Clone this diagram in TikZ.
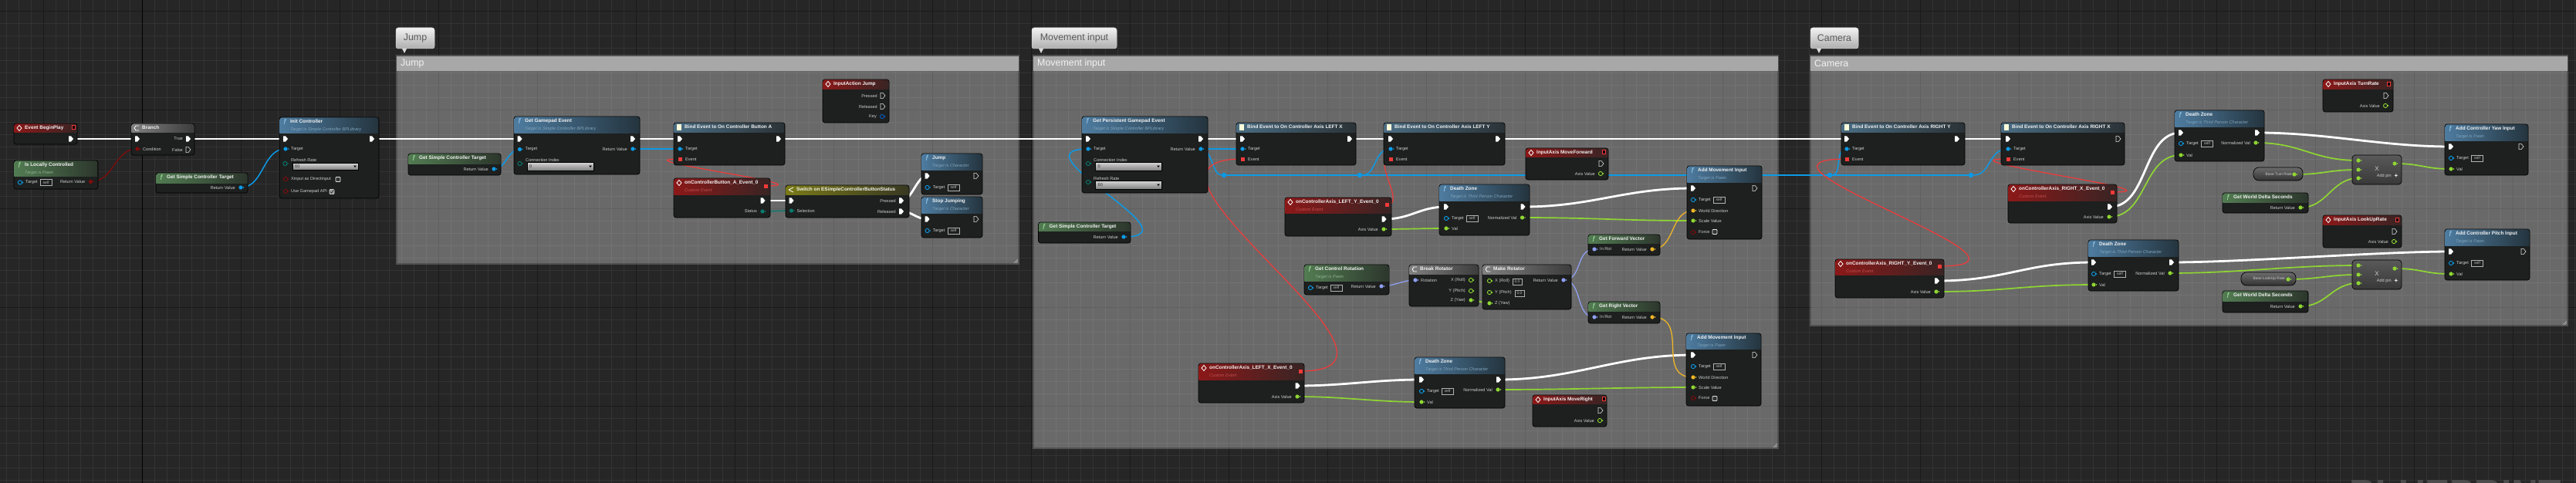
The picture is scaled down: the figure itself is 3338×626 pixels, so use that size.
\documentclass[tikz,border=0pt]{standalone}
\usepackage{fontspec}
\setmainfont{Liberation Sans}
\usetikzlibrary{calc}
\pgfdeclarelayer{bg}\pgfdeclarelayer{wires}
\pgfsetlayers{bg,wires,main}
\definecolor{bgc}{HTML}{262626}
\definecolor{gmin}{HTML}{333333}
\definecolor{gmaj}{HTML}{1A1A1A}
\definecolor{body}{HTML}{1D201F}
\definecolor{cblue}{HTML}{0C9AE6}
\definecolor{cred}{HTML}{F23A3A}
\definecolor{cdred}{HTML}{7E0C0C}
\definecolor{cgreen}{HTML}{8FD633}
\definecolor{cteal}{HTML}{0A7A6E}
\definecolor{cperi}{HTML}{8F9FF0}
\definecolor{cyel}{HTML}{EDB428}
\definecolor{cdblue}{HTML}{0A5CC0}
\definecolor{subhfn}{HTML}{7FA4BC}
\definecolor{subhbind}{HTML}{7FA4BC}
\definecolor{subhpure}{HTML}{8FB08F}
\definecolor{subhevent}{HTML}{C05050}
\definecolor{subhbranch}{HTML}{AAAAAA}
\definecolor{subhswitch}{HTML}{AAAA60}
\definecolor{fnL}{RGB}{78,124,160}\definecolor{fnR}{RGB}{36,52,62}
\definecolor{bdL}{RGB}{74,108,130}\definecolor{bdR}{RGB}{42,50,54}
\definecolor{puL}{RGB}{82,124,82}\definecolor{puR}{RGB}{44,54,44}
\definecolor{evL}{RGB}{140,24,24}\definecolor{evR}{RGB}{56,36,36}
\definecolor{brL}{RGB}{128,128,128}\definecolor{brR}{RGB}{60,60,60}
\definecolor{swL}{RGB}{122,122,24}\definecolor{swR}{RGB}{56,56,34}
\definecolor{icB}{RGB}{150,205,240}\definecolor{icG}{RGB}{160,225,160}
\tikzset{
  hfn/.style={left color=fnL,right color=fnR},
  hbind/.style={left color=bdL,right color=bdR},
  hpure/.style={left color=puL,right color=puR},
  hevent/.style={left color=evL,right color=evR},
  hbranch/.style={left color=brL,right color=brR},
  hswitch/.style={left color=swL,right color=swR},
  blockbody/.style={fill=body,draw=black,line width=.7pt,rounded corners=3pt,inner sep=0pt,outer sep=0pt},
  ttl/.style={font=\bfseries\fontsize{6.4}{8}\selectfont,text=white!95!black,anchor=west,inner sep=0pt},
  subt/.style={font=\itshape\fontsize{5.6}{6}\selectfont,anchor=west,inner sep=0pt},
  plabel/.style={font=\fontsize{5.6}{6}\selectfont,text=white!80!black,inner sep=0pt},
  icf/.style={font=\itshape\fontsize{10}{10}\selectfont,inner sep=0pt},
  pf/.style={fill=#1},
  ph/.style={draw=#1,line width=.9pt},
  wexec/.style={draw=white,line width=2.8pt},
  wblue/.style={draw=cblue,line width=1.5pt},
  wred/.style={draw=cred,line width=1.2pt},
  wdred/.style={draw=cdred,line width=1.3pt},
  wgreen/.style={draw=cgreen,line width=1.7pt},
  wteal/.style={draw=cteal,line width=1.5pt},
  wperi/.style={draw=cperi,line width=1.3pt},
  wyel/.style={draw=cyel,line width=1.3pt},
  valbox/.style={draw=white!70!black,line width=.5pt,font=\fontsize{5}{5}\selectfont,text=white!75!black,inner sep=0pt,minimum height=8pt},
  mathbody/.style={top color=white!35!black,bottom color=white!22!black,draw=black,line width=.7pt,rounded corners=4pt,inner sep=0pt,outer sep=0pt},
  varbody/.style={top color=white!42!black,bottom color=white!20!black,draw=black,line width=.7pt,rounded corners=7pt,inner sep=0pt,outer sep=0pt},
  ddown/.style={top color=white!85!black,bottom color=white!50!black,draw=black,line width=.4pt,inner sep=0pt,outer sep=0pt},
}
% icons
\newcommand{\ichfn}[3]{\node[icf,text=icB] (#3-ic) at (#1,#2) {f};}
\newcommand{\ichpure}[3]{\node[icf,text=icG] (#3-ic) at (#1,#2) {f};}
\newcommand{\ichbind}[3]{\fill[white!85!yellow] (#1-3,#2-4) rectangle (#1+3,#2+4);}
\newcommand{\ichevent}[3]{\draw[white,line width=.8pt] (#1-3,#2) -- (#1,#2-3.5) -- (#1+3,#2) -- (#1,#2+3.5) -- cycle;}
\newcommand{\ichbranch}[3]{\draw[white,line width=.8pt] (#1+3,#2-3) -- (#1-1,#2-3) -- (#1-3,#2) -- (#1-1,#2+3) -- (#1+3,#2+3);}
\newcommand{\ichswitch}[3]{\draw[white,line width=.8pt] (#1-3,#2) -- (#1+3,#2-3) (#1-3,#2) -- (#1+3,#2+3);}
% name x1 y1 x2 y2 yh kind title sub
\newcommand{\ueblock}[9]{%
  \pgfmathsetmacro\bw{#4-#2}\pgfmathsetmacro\bh{#5-#3}
  \node[blockbody,minimum width=\bw pt,minimum height=\bh pt] (#1) at ({(#2+#4)/2},{(#3+#5)/2}) {};
  \begin{scope}
    \clip[rounded corners=3pt] (#2+.4,#3+.4) rectangle (#4-.4,#5-.4);
    \path[#7] (#2,#3) rectangle (#4,#6);
  \end{scope}
  \csname ic#7\endcsname{#2+7}{#3+6}{#1}
  \node[ttl] (#1-t) at (#2+14,#3+5.6) {#8};
  \node[subt,text=sub#7] (#1-s) at (#2+14,#3+15.6) {#9};
}
\newcommand{\dpin}[5]{%
  \coordinate (#1) at (#2,#3);
  \path[#5=#4] (#2,#3) circle (2.6);
  \fill[#4] (#2+3,#3-1) -- (#2+4.6,#3) -- (#2+3,#3+1) -- cycle;
}
\newcommand{\pinL}[6]{\dpin{#1}{#2}{#3}{#4}{#5}\node[plabel,anchor=west] (#1-l) at (#2+7,#3) {#6};}
\newcommand{\pinR}[6]{\dpin{#1}{#2}{#3}{#4}{#5}\node[plabel,anchor=east] (#1-l) at (#2-7,#3) {#6};}
\newcommand{\exf}[3]{\coordinate (#1) at (#2,#3);
  \fill[white] (#2-3,#3-3.6) -- (#2,#3-3.6) -- (#2+3,#3) -- (#2,#3+3.6) -- (#2-3,#3+3.6) -- cycle;}
\newcommand{\exh}[3]{\coordinate (#1) at (#2,#3);
  \draw[white!85!black,line width=.6pt] (#2-3,#3-3.6) -- (#2,#3-3.6) -- (#2+3,#3) -- (#2,#3+3.6) -- (#2-3,#3+3.6) -- cycle;}
\newcommand{\sqf}[3]{\coordinate (#1) at (#2,#3);\fill[cred] (#2-2.5,#3-2.5) rectangle (#2+2.5,#3+2.5);}
\newcommand{\sqh}[3]{\coordinate (#1) at (#2,#3);\draw[cred,line width=.9pt,fill=black] (#2-2,#3-2.5) rectangle (#2+2,#3+2.5);}
\newcommand{\selfb}[3]{\node[valbox,minimum width=15pt] (#1) at (#2,#3) {self};}
\newcommand{\numb}[3]{\node[valbox,minimum width=12pt] (#1) at (#2,#3) {0.0};}
\newcommand{\dropd}[6]{\pgfmathsetmacro\bw{#4-#2}\pgfmathsetmacro\bh{#5-#3}
  \node[ddown,minimum width=\bw pt,minimum height=\bh pt] (#1) at ({(#2+#4)/2},{(#3+#5)/2}) {};
  \node[plabel,text=black!80,anchor=west] (#1-v) at (#2+3,{(#3+#5)/2}) {#6};
  \fill[black] (#4-6,{(#3+#5)/2-1}) -- (#4-2,{(#3+#5)/2-1}) -- (#4-4,{(#3+#5)/2+1.5}) -- cycle;}
\newcommand{\chko}[3]{\node[draw=white!90!black,line width=.9pt,rounded corners=1pt,minimum size=6pt,inner sep=0pt,fill=black!80] (#1) at (#2,#3) {};}
\newcommand{\chkx}[3]{\node[draw=white!80!black,line width=.9pt,rounded corners=1pt,minimum size=6pt,inner sep=0pt,fill=white!60!black] (#1) at (#2,#3) {};
  \draw[black!70,line width=1pt] (#2-2,#3) -- (#2-.5,#3+2) -- (#2+2.5,#3-2.5);}
\newcommand{\comm}[6]{% name x1 y1 x2 y2 title
  \path[fill=white,opacity=.31] (#2,#3) rectangle (#4,#5);
  \draw[black,opacity=.22,line width=2pt] (#2+1,#3+1) rectangle (#4-1,#5-1);
  \fill[white!66!black] (#2+1,#3+2) rectangle (#4-1,#3+21);
  \node[font=\fontsize{12.4}{13}\selectfont,text=white!95!black,anchor=west,inner sep=0pt] (#1-t) at (#2+6,#3+11.5) {#6};
  \draw[white!75!black,line width=.5pt] (#4-7,#5-2) -- (#4-2,#5-7) (#4-4.5,#5-2) -- (#4-2,#5-4.5);
}
\newcommand{\bubb}[5]{% name x1 x2 tailx text
  \fill[white!85!black] (#4-3,63) -- (#4+3,63) -- (#4,69) -- cycle;
  \pgfmathsetmacro\bw{#3-#2}
  \node[top color=white!95!black,bottom color=white!68!black,draw=white!85!black,line width=.5pt,rounded corners=3pt,minimum width=\bw pt,minimum height=27pt,inner sep=0pt,font=\fontsize{12.4}{13}\selectfont,text=black!65] (#1) at ({(#2+#3)/2},49.5) {#5};
}
\newcommand{\mathb}[6]{% name x1 y1 x2 y2 addx... pins outside
  \pgfmathsetmacro\bw{#4-#2}\pgfmathsetmacro\bh{#5-#3}
  \node[mathbody,minimum width=\bw pt,minimum height=\bh pt] (#1) at ({(#2+#4)/2},{(#3+#5)/2}) {};
  \node[font=\fontsize{8}{8}\selectfont,text=white!80!black,inner sep=0pt] (#1-x) at (#2+32,#3+18) {X};
  \node[plabel,anchor=east] (#1-a) at (#2+51,#3+27) {#6};
  \node[font=\bfseries\fontsize{8}{8}\selectfont,text=white,inner sep=0pt] (#1-p) at (#2+57,#3+27) {+};
}
\newcommand{\varb}[6]{% name x1 y1 x2 y2 text
  \pgfmathsetmacro\bw{#4-#2}\pgfmathsetmacro\bh{#5-#3}
  \node[varbody,minimum width=\bw pt,minimum height=\bh pt] (#1) at ({(#2+#4)/2},{(#3+#5)/2}) {};
  \node[plabel,font=\fontsize{4.9}{5}\selectfont,anchor=east] (#1-l) at (#4-14,{(#3+#5)/2}) {#6};
}
\newcommand{\knot}[3]{\node[circle,fill=cblue,minimum size=6.4pt,inner sep=0pt] (#1) at (#2,#3) {};}
\newcommand{\wire}[4]{\draw[#1] (#2) .. controls +(#4,0) and +(-#4,0) .. (#3);}
\begin{document}
\begin{tikzpicture}[x=1pt,y=-1pt]
\useasboundingbox (0,0) rectangle (3338,626);
\begin{pgfonlayer}{bg}
\fill[bgc] (0,0) rectangle (3338,626);
\foreach \k in {-11,...,197} {\draw[gmin,line width=.9pt] ({184.3+16*\k},0) -- ({184.3+16*\k},626);}
\foreach \k in {0,...,39} {\draw[gmin,line width=.9pt] (0,{14.7+16*\k}) -- (3338,{14.7+16*\k});}
\foreach \k in {0,...,25} {\draw[gmaj,line width=1pt] ({56.3+128*\k},0) -- ({56.3+128*\k},626);}
\foreach \k in {0,...,4} {\draw[gmaj,line width=1pt] (0,{14.7+128*\k}) -- (3338,{14.7+128*\k});}
\draw[black,line width=1.2pt] (184.3,0) -- (184.3,626);
\comm{cJump}{513}{71}{1321}{343}{Jump}
\comm{cMove}{1338}{71}{2305}{582}{Movement input}
\comm{cCam}{2345}{71}{3328}{423}{Camera}
\node[font=\bfseries\fontsize{48}{48}\selectfont,text=white!30!black,anchor=north west,inner sep=0pt] (watermark) at (3044,622) {BLUEPRINT};
\end{pgfonlayer}
\bubb{bJump}{513}{563}{524}{Jump}
\bubb{bMove}{1337}{1447}{1349}{Movement input}
\bubb{bCam}{2346}{2408}{2357}{Camera}
% --- begin
\ueblock{begin}{18}{160}{100}{187}{171}{hevent}{Event BeginPlay}{}
\sqh{beginS}{95.5}{165}\exf{beginO}{92}{180}
\ueblock{local}{18}{208}{127}{245}{228}{hpure}{Is Locally Controlled}{Target is Pawn}
\pinL{localT}{26}{236.5}{cblue}{ph}{Target}\selfb{localB}{59.5}{236.5}
\pinR{localR}{117.5}{235.5}{cdred}{pf}{Return Value}
\ueblock{branch}{170}{160}{252}{201}{171}{hbranch}{Branch}{}
\exf{branchI}{178}{180}\pinL{branchC}{178}{193}{cdred}{pf}{Condition}
\exf{branchT}{244}{180}\node[plabel,anchor=east](branchTl) at (237,180){True};
\exh{branchF}{244}{194}\node[plabel,anchor=east](branchFl) at (237,194){False};
\ueblock{gsc}{202}{224}{321}{250}{237}{hpure}{Get Simple Controller Target}{}
\pinR{gscR}{312}{243}{cblue}{pf}{Return Value}
\ueblock{init}{362}{152}{491}{257}{172}{hfn}{Init Controller}{Target is Simple Controller BPLibrary}
\exf{initI}{370}{180}\exf{initO}{482}{180}
\pinL{initT}{370}{193}{cblue}{pf}{Target}
\dpin{initR}{369.5}{212}{cteal}{ph}\node[plabel,anchor=west](initRl) at (377,207){Refresh Rate};
\dropd{initD}{379}{211}{464}{220}{60}
\pinL{initX}{370}{232}{cdred}{ph}{Xinput as Directinput}\chko{initXc}{438}{232.5}
\pinL{initG}{370}{248}{cdred}{ph}{Use Gamepad API}\chkx{initGc}{430}{248.5}
% --- jump
\ueblock{gsc2}{529}{199}{649}{227}{212}{hpure}{Get Simple Controller Target}{}
\pinR{gsc2R}{640}{219}{cblue}{pf}{Return Value}
\ueblock{gge}{666}{151}{829}{226}{172}{hfn}{Get Gamepad Event}{Target is Simple Controller BPLibrary}
\exf{ggeI}{673.5}{180}\exf{ggeO}{820}{180}
\pinL{ggeT}{673.5}{193.5}{cblue}{pf}{Target}\pinR{ggeR}{820}{193}{cblue}{pf}{Return Value}
\dpin{ggeC}{673.5}{212}{cteal}{ph}\node[plabel,anchor=west](ggeCl) at (681,207){Connection Index};
\dropd{ggeD}{683}{210}{769}{221}{0}
\ueblock{bindA}{873}{159}{1017}{214}{171}{hbind}{Bind Event to On Controller Button A}{}
\exf{bindAI}{881}{180}\exf{bindAO}{1009}{180}
\pinL{bindAT}{881}{193}{cblue}{pf}{Target}\sqf{bindAE}{881}{206}\node[plabel,anchor=west](bindAEl) at (888,207){Event};
\ueblock{iaJ}{1066}{103}{1152}{159}{115}{hevent}{InputAction Jump}{}
\exh{iaJP}{1144}{124}\node[plabel,anchor=east](iaJPl) at (1137,124){Pressed};
\exh{iaJR}{1144}{138}\node[plabel,anchor=east](iaJRl) at (1137,138){Released};
\pinR{iaJK}{1143}{151}{cdblue}{ph}{Key}
\ueblock{evA}{873}{231}{998}{282}{252}{hevent}{onControllerButton\_A\_Event\_0}{Custom Event}
\sqf{evAS}{992}{241}\exf{evAO}{988.5}{260}\pinR{evAT}{988}{274}{cteal}{pf}{Status}
\ueblock{sw}{1018}{240}{1178}{282}{252}{hswitch}{Switch on ESimpleControllerButtonStatus}{}
\exf{swI}{1025.5}{260}\pinL{swS}{1025.5}{273}{cteal}{pf}{Selection}
\exf{swP}{1168}{260}\node[plabel,anchor=east](swPl) at (1161,260){Pressed};
\exf{swR}{1168}{274}\node[plabel,anchor=east](swRl) at (1161,274){Released};
\ueblock{jmp}{1194}{199}{1273}{252}{220}{hfn}{Jump}{Target is Character}
\exf{jmpI}{1201.6}{228}\exh{jmpO}{1265}{228}\pinL{jmpT}{1201.6}{243}{cblue}{ph}{Target}\selfb{jmpB}{1235.5}{243}
\ueblock{stp}{1194}{255}{1273}{308}{276}{hfn}{Stop Jumping}{Target is Character}
\exf{stpI}{1201.6}{284}\exh{stpO}{1265}{284}\pinL{stpT}{1201.6}{299}{cblue}{ph}{Target}\selfb{stpB}{1235.5}{299}
% --- movement
\ueblock{gpg}{1402}{151}{1565}{250}{172}{hfn}{Get Persistent Gamepad Event}{Target is Simple Controller BPLibrary}
\exf{gpgI}{1410}{180}\exf{gpgO}{1556}{180}
\pinL{gpgT}{1410}{193}{cblue}{pf}{Target}\pinR{gpgR}{1556}{193}{cblue}{pf}{Return Value}
\dpin{gpgC}{1410}{212}{cteal}{ph}\node[plabel,anchor=west](gpgCl) at (1417,207){Connection Index};
\dropd{gpgD}{1419.5}{210}{1505}{221}{0}
\dpin{gpgF}{1410}{236}{cteal}{ph}\node[plabel,anchor=west](gpgFl) at (1417,231){Refresh Rate};
\dropd{gpgE}{1419.5}{234}{1505}{245}{60}
\ueblock{gsc3}{1345.5}{288}{1465}{315}{299}{hpure}{Get Simple Controller Target}{}
\pinR{gsc3R}{1456}{307}{cblue}{pf}{Return Value}
\ueblock{bindLX}{1602}{159}{1757}{214}{171}{hbind}{Bind Event to On Controller Axis LEFT X}{}
\exf{bindLXI}{1610}{180}\exf{bindLXO}{1749}{180}
\pinL{bindLXT}{1610}{193}{cblue}{pf}{Target}\sqf{bindLXE}{1610}{206}\node[plabel,anchor=west](bindLXEl) at (1617,207){Event};
\ueblock{bindLY}{1793}{159}{1950}{214}{171}{hbind}{Bind Event to On Controller Axis LEFT Y}{}
\exf{bindLYI}{1802}{180}\exf{bindLYO}{1941}{180}
\pinL{bindLYT}{1802}{193}{cblue}{pf}{Target}\sqf{bindLYE}{1802}{206}\node[plabel,anchor=west](bindLYEl) at (1809,207){Event};
\knot{k1}{1586}{227}\knot{k2}{1762}{227}\knot{k3}{2371}{227}\knot{k4}{2554}{227}
\ueblock{iaMF}{1977}{192}{2084}{233}{203}{hevent}{InputAxis MoveForward}{}
\sqh{iaMFS}{2078}{197}\exh{iaMFE}{2075}{212}\pinR{iaMFA}{2074}{225}{cgreen}{ph}{Axis Value}
\ueblock{evLY}{1665}{256}{1803}{306}{276}{hevent}{onControllerAxis\_LEFT\_Y\_Event\_0}{Custom Event}
\sqf{evLYS}{1797.5}{265}\exf{evLYO}{1793.5}{284}\pinR{evLYA}{1793}{297}{cgreen}{pf}{Axis Value}
\ueblock{dz1}{1865}{239}{1982}{305}{260}{hfn}{Death Zone}{Target is Third Person Character}
\exf{dz1I}{1874}{268}\exf{dz1O}{1973.5}{268}
\pinL{dz1T}{1874}{283}{cblue}{ph}{Target}\selfb{dz1B}{1907.5}{283}
\pinR{dz1N}{1972.5}{282}{cgreen}{pf}{Normalized Val}\pinL{dz1V}{1874}{296}{cgreen}{pf}{Val}
\ueblock{gfv}{2058}{304}{2151}{331}{315}{hpure}{Get Forward Vector}{}
\pinL{gfvI}{2066}{323}{cperi}{pf}{In Rot}\pinR{gfvR}{2141}{323}{cyel}{pf}{Return Value}
\ueblock{grv}{2058}{391}{2151}{419}{403}{hpure}{Get Right Vector}{}
\pinL{grvI}{2066}{411}{cperi}{pf}{In Rot}\pinR{grvR}{2141}{411}{cyel}{pf}{Return Value}
\ueblock{ami1}{2186}{215}{2283}{310}{236}{hfn}{Add Movement Input}{Target is Pawn}
\exf{ami1I}{2194}{244}\exh{ami1O}{2274}{244}
\pinL{ami1T}{2194}{259}{cblue}{ph}{Target}\selfb{ami1B}{2227.5}{259}
\pinL{ami1W}{2194}{273}{cyel}{pf}{World Direction}\pinL{ami1S}{2194}{286}{cgreen}{pf}{Scale Value}
\pinL{ami1F}{2194}{301}{cdred}{ph}{Force}\chko{ami1C}{2222}{300.5}
\ueblock{gcr}{1690}{343}{1800}{382}{364}{hpure}{Get Control Rotation}{Target is Pawn}
\pinL{gcrT}{1698}{373}{cblue}{ph}{Target}\selfb{gcrB}{1731.5}{373}\pinR{gcrR}{1790}{371}{cperi}{pf}{Return Value}
\ueblock{brk}{1826}{343}{1916}{397}{355}{hbranch}{Break Rotator}{}
\pinL{brkR}{1834}{363}{cperi}{pf}{Rotation}
\pinR{brkX}{1906}{363}{cgreen}{ph}{X (Roll)}\pinR{brkY}{1906}{377}{cgreen}{ph}{Y (Pitch)}\pinR{brkZ}{1906}{389}{cgreen}{pf}{Z (Yaw)}
\ueblock{mkr}{1921}{343}{2036}{401}{355}{hbranch}{Make Rotator}{}
\pinL{mkrX}{1930}{364}{cgreen}{ph}{X (Roll)}\numb{mkrXb}{1966}{365}
\pinL{mkrY}{1930}{379}{cgreen}{ph}{Y (Pitch)}\numb{mkrYb}{1969}{380}
\pinL{mkrZ}{1930}{393}{cgreen}{pf}{Z (Yaw)}\pinR{mkrR}{2026}{363}{cperi}{pf}{Return Value}
\ueblock{evLX}{1553}{471}{1690}{522}{492}{hevent}{onControllerAxis\_LEFT\_X\_Event\_0}{Custom Event}
\sqf{evLXS}{1685}{481}\exf{evLXO}{1681.6}{500}\pinR{evLXA}{1681}{514}{cgreen}{pf}{Axis Value}
\ueblock{dz2}{1833}{463}{1950}{529}{484}{hfn}{Death Zone}{Target is Third Person Character}
\exf{dz2I}{1842}{492}\exf{dz2O}{1942}{492}
\pinL{dz2T}{1842}{507}{cblue}{ph}{Target}\selfb{dz2B}{1875.5}{507}
\pinR{dz2N}{1941}{505}{cgreen}{pf}{Normalized Val}\pinL{dz2V}{1842}{521}{cgreen}{pf}{Val}
\ueblock{iaMR}{1986}{512}{2082}{553}{523}{hevent}{InputAxis MoveRight}{}
\sqh{iaMRS}{2078}{517}\exh{iaMRE}{2074}{532}\pinR{iaMRA}{2073}{545}{cgreen}{ph}{Axis Value}
\ueblock{ami2}{2185}{432}{2282}{526}{452}{hfn}{Add Movement Input}{Target is Pawn}
\exf{ami2I}{2194}{460}\exh{ami2O}{2274}{460}
\pinL{ami2T}{2194}{475}{cblue}{ph}{Target}\selfb{ami2B}{2227.5}{475}
\pinL{ami2W}{2194}{489}{cyel}{pf}{World Direction}\pinL{ami2S}{2194}{502}{cgreen}{pf}{Scale Value}
\pinL{ami2F}{2194}{516}{cdred}{ph}{Force}\chko{ami2C}{2222}{516.5}
% --- camera
\ueblock{bindRY}{2386}{159}{2546}{214}{171}{hbind}{Bind Event to On Controller Axis RIGHT Y}{}
\exf{bindRYI}{2393}{180}\exf{bindRYO}{2536}{180}
\pinL{bindRYT}{2393}{193}{cblue}{pf}{Target}\sqf{bindRYE}{2393}{206}\node[plabel,anchor=west](bindRYEl) at (2400,207){Event};
\ueblock{bindRX}{2593}{159}{2753}{214}{171}{hbind}{Bind Event to On Controller Axis RIGHT X}{}
\exf{bindRXI}{2602}{180}\exh{bindRXO}{2745}{180}
\pinL{bindRXT}{2602}{193}{cblue}{pf}{Target}\sqf{bindRXE}{2602}{206}\node[plabel,anchor=west](bindRXEl) at (2609,207){Event};
\ueblock{iaTR}{3010}{103}{3101}{145}{115}{hevent}{InputAxis TurnRate}{}
\sqh{iaTRS}{3095}{109}\exh{iaTRE}{3092}{124}\pinR{iaTRA}{3091}{137}{cgreen}{ph}{Axis Value}
\ueblock{dz3}{2818}{143}{2934}{209}{164}{hfn}{Death Zone}{Target is Third Person Character}
\exf{dz3I}{2826}{172}\exf{dz3O}{2925}{172}
\pinL{dz3T}{2826}{186}{cblue}{ph}{Target}\selfb{dz3B}{2860}{186}
\pinR{dz3N}{2923}{185}{cgreen}{pf}{Normalized Val}\pinL{dz3V}{2826}{201}{cgreen}{pf}{Val}
\ueblock{yaw}{3168}{161}{3276}{227}{182}{hfn}{Add Controller Yaw Input}{Target is Pawn}
\exf{yawI}{3176}{190}\exh{yawO}{3267}{190}
\pinL{yawT}{3176}{205}{cblue}{ph}{Target}\selfb{yawB}{3210}{205}\pinL{yawV}{3176}{219}{cgreen}{pf}{Val}
\mathb{mul1}{3048}{201}{3112}{239}{Add pin}
\dpin{mul1a}{3056}{208}{cgreen}{pf}\dpin{mul1b}{3056}{220}{cgreen}{pf}\dpin{mul1c}{3056}{231}{cgreen}{pf}\dpin{mul1o}{3103}{212}{cgreen}{pf}
\varb{vTurn}{2920}{217}{2984}{234}{Base Turn Rate}\dpin{vTurnP}{2973}{226}{cgreen}{pf}
\ueblock{gwd1}{2880}{250}{2991}{276}{262}{hpure}{Get World Delta Seconds}{}
\pinR{gwd1R}{2981}{269}{cgreen}{pf}{Return Value}
\ueblock{evRX}{2602}{239}{2743}{289}{260}{hevent}{onControllerAxis\_RIGHT\_X\_Event\_0}{Custom Event}
\sqf{evRXS}{2737}{249}\exf{evRXO}{2734}{268}\pinR{evRXA}{2733}{281}{cgreen}{pf}{Axis Value}
\ueblock{evRY}{2378}{336}{2519}{386}{356}{hevent}{onControllerAxis\_RIGHT\_Y\_Event\_0}{Custom Event}
\sqf{evRYS}{2513}{345}\exf{evRYO}{2510}{364}\pinR{evRYA}{2509}{378}{cgreen}{pf}{Axis Value}
\ueblock{dz4}{2706}{311}{2823}{377}{332}{hfn}{Death Zone}{Target is Third Person Character}
\exf{dz4I}{2713}{340}\exf{dz4O}{2814}{340}
\pinL{dz4T}{2713}{355}{cblue}{ph}{Target}\selfb{dz4B}{2747}{355}
\pinR{dz4N}{2812}{354}{cgreen}{pf}{Normalized Val}\pinL{dz4V}{2713}{369}{cgreen}{pf}{Val}
\ueblock{iaLU}{3010}{279}{3112}{321}{291}{hevent}{InputAxis LookUpRate}{}
\sqh{iaLUS}{3106}{285}\exh{iaLUE}{3103}{300}\pinR{iaLUA}{3102}{313}{cgreen}{ph}{Axis Value}
\ueblock{pit}{3168}{297}{3278}{363}{318}{hfn}{Add Controller Pitch Input}{Target is Pawn}
\exf{pitI}{3176}{326}\exh{pitO}{3270}{326}
\pinL{pitT}{3176}{341}{cblue}{ph}{Target}\selfb{pitB}{3210}{341}\pinL{pitV}{3176}{355}{cgreen}{pf}{Val}
\mathb{mul2}{3048}{337}{3112}{375}{Add pin}
\dpin{mul2a}{3056}{344}{cgreen}{pf}\dpin{mul2b}{3056}{356}{cgreen}{pf}\dpin{mul2c}{3056}{367}{cgreen}{pf}\dpin{mul2o}{3103}{348}{cgreen}{pf}
\varb{vLook}{2904}{353}{2975}{370}{Base LookUp Rate}\dpin{vLookP}{2965}{362}{cgreen}{pf}
\ueblock{gwd2}{2880}{377}{2991}{405}{390}{hpure}{Get World Delta Seconds}{}
\pinR{gwd2R}{2981}{397}{cgreen}{pf}{Return Value}
% ======= wires
\begin{pgfonlayer}{wires}
\wire{wexec}{beginO}{branchI}{20}\wire{wexec}{branchT}{initI}{20}\wire{wexec}{initO}{ggeI}{20}
\wire{wexec}{ggeO}{bindAI}{20}\wire{wexec}{bindAO}{gpgI}{20}\wire{wexec}{gpgO}{bindLXI}{20}
\wire{wexec}{bindLXO}{bindLYI}{20}\wire{wexec}{bindLYO}{bindRYI}{20}\wire{wexec}{bindRYO}{bindRXI}{20}
\wire{wexec}{evAO}{swI}{10}\wire{wexec}{swP}{jmpI}{14}\wire{wexec}{swR}{stpI}{14}
\wire{wexec}{evLYO}{dz1I}{35}\wire{wexec}{dz1O}{ami1I}{90}\wire{wexec}{evLXO}{dz2I}{60}\wire{wexec}{dz2O}{ami2I}{100}
\wire{wexec}{evRXO}{dz3I}{50}\wire{wexec}{dz3O}{yawI}{90}\wire{wexec}{evRYO}{dz4I}{90}\wire{wexec}{dz4O}{pitI}{90}
\wire{wdred}{localR}{branchC}{30}\wire{wblue}{gscR}{initT}{30}\wire{wblue}{gsc2R}{ggeT}{16}\wire{wblue}{ggeR}{bindAT}{20}
\wire{wred}{evAS}{bindAE}{85}\wire{wteal}{evAT}{swS}{10}
\wire{wblue}{gsc3R}{gpgT}{100}\wire{wblue}{gpgR}{bindLXT}{20}\wire{wblue}{gpgR}{k1}{15}
\wire{wblue}{k1}{k2}{40}\wire{wblue}{k2}{bindLYT}{22}\wire{wblue}{k2}{k3}{100}\wire{wblue}{k3}{bindRYT}{16}
\wire{wblue}{k3}{k4}{40}\wire{wblue}{k4}{bindRXT}{26}
\wire{wred}{evLXS}{bindLXE}{190}\wire{wred}{evLYS}{bindLYE}{25}\wire{wred}{evRXS}{bindRXE}{100}\wire{wred}{evRYS}{bindRYE}{170}
\wire{wgreen}{evLYA}{dz1V}{30}\wire{wgreen}{dz1N}{ami1S}{90}\wire{wgreen}{evLXA}{dz2V}{60}\wire{wgreen}{dz2N}{ami2S}{90}
\wire{wperi}{gcrR}{brkR}{16}\wire{wgreen}{brkZ}{mkrZ}{8}\wire{wperi}{mkrR}{gfvI}{25}\wire{wperi}{mkrR}{grvI}{25}
\wire{wyel}{gfvR}{ami1W}{30}\wire{wyel}{grvR}{ami2W}{50}
\wire{wgreen}{evRXA}{dz3V}{50}\wire{wgreen}{dz3N}{mul1a}{60}\wire{wgreen}{vTurnP}{mul1b}{40}\wire{wgreen}{gwd1R}{mul1c}{35}\wire{wgreen}{mul1o}{yawV}{35}
\wire{wgreen}{evRYA}{dz4V}{90}\wire{wgreen}{dz4N}{mul2a}{90}\wire{wgreen}{vLookP}{mul2b}{40}\wire{wgreen}{gwd2R}{mul2c}{35}\wire{wgreen}{mul2o}{pitV}{35}
\end{pgfonlayer}
\end{tikzpicture}
\end{document}
